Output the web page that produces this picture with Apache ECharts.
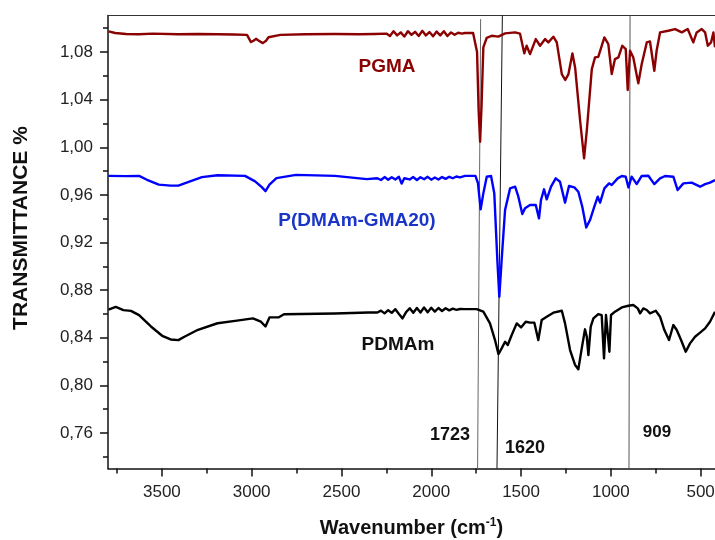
<!DOCTYPE html>
<html>
<head>
<meta charset="utf-8">
<script src="https://cdn.jsdelivr.net/npm/echarts@6/dist/echarts.min.js"></script>
<style>
  html, body { margin: 0; padding: 0; background: #fff; }
  #main { width: 715px; height: 540px; }
</style>
</head>
<body>
<div id="main"></div>
<script>
var chart = echarts.init(document.getElementById('main'));

// axis ticks
var majorX = [3500, 3000, 2500, 2000, 1500, 1000, 500];
var minorX = [3750, 3250, 2750, 2250, 1750, 1250, 750];
var majorY = [0.76, 0.80, 0.84, 0.88, 0.92, 0.96, 1.00, 1.04, 1.08];
var minorY = [0.74, 0.78, 0.82, 0.86, 0.90, 0.94, 0.98, 1.02, 1.06, 1.10];

// PGMA
var pgmaWn = [3797, 3760, 3700, 3627, 3550, 3410, 3300, 3190, 3100, 3026, 3004, 2990, 2976, 2960, 2938, 2920, 2906, 2840, 2700, 2536, 2400, 2316,
  2250, 2230, 2210, 2190, 2170, 2150, 2130, 2110, 2090, 2070, 2050, 2030, 2010, 1990, 1970, 1950, 1930, 1910, 1890, 1870, 1850, 1830,
  1812, 1767, 1756, 1745, 1736, 1728, 1720, 1710, 1691, 1663, 1626, 1589, 1533, 1506, 1482, 1469, 1450, 1418, 1394, 1366, 1348, 1320,
  1301, 1273, 1254, 1236, 1214, 1199, 1171, 1162, 1149, 1134, 1106, 1088, 1070, 1036, 1014, 995, 977, 958, 936, 917, 906, 893, 875,
  847, 828, 800, 782, 758, 745, 726, 680, 642, 605, 572, 541, 522, 494, 475, 460, 442, 429, 420];
var pgmaT = [1.0974, 1.0960, 1.0952, 1.0950, 1.0955, 1.0950, 1.0952, 1.0950, 1.0948, 1.0944, 1.0884, 1.0895, 1.0911, 1.0895, 1.0875, 1.0895, 1.0924, 1.0944, 1.0950, 1.0952, 1.0950, 1.0952,
  1.0955, 1.0935, 1.0975, 1.0940, 1.0965, 1.0930, 1.0975, 1.0945, 1.0970, 1.0935, 1.0978, 1.0940, 1.0968, 1.0932, 1.0972, 1.0940, 1.0975, 1.0935, 1.0965, 1.0945, 1.0962, 1.0955,
  1.0960, 1.0960, 1.0950, 1.0800, 1.0300, 1.0047, 1.0350, 1.0840, 1.0920, 1.0937, 1.0930, 1.0957, 1.0965, 1.0955, 1.0789, 1.0853, 1.0783, 1.0909, 1.0853, 1.0909, 1.0881, 1.0929,
  1.0881, 1.0615, 1.0565, 1.0615, 1.0789, 1.0671, 1.0223, 1.0209, 0.9907, 1.0139, 1.0657, 1.0755, 1.0759, 1.0923, 1.0867, 1.0615, 1.0741, 1.0755, 1.0853, 1.0825, 1.0481, 1.0811, 1.0755,
  1.0537, 1.0699, 1.0881, 1.0889, 1.0643, 1.0811, 1.0965, 1.0979, 1.0993, 1.0965, 1.0993, 1.0881, 1.0965, 1.0993, 1.0965, 1.0853, 1.0881, 1.0965, 1.0840];

// P(DMAm-GMA20)
var copoWn = [3797, 3700, 3627, 3583, 3517, 3451, 3408, 3343, 3277, 3190, 3037, 2981, 2945, 2923, 2901, 2862, 2753, 2536, 2359,
  2300, 2280, 2260, 2240, 2220, 2200, 2180, 2165, 2150, 2140, 2120, 2100, 2080, 2060, 2040, 2020, 2000, 1980, 1960, 1940, 1920, 1900, 1880, 1860, 1840,
  1812, 1754, 1740, 1725, 1710, 1691, 1667, 1649, 1632, 1621, 1608, 1589, 1561, 1533, 1515, 1493, 1478, 1450, 1418, 1400, 1389, 1372, 1357, 1333,
  1307, 1283, 1255, 1233, 1203, 1181, 1159, 1137, 1116, 1092, 1073, 1060, 1036, 1010, 995, 962, 939, 917, 902, 884, 856, 828, 791, 758, 726,
  698, 652, 628, 596, 550, 503, 475, 448, 420];
var copoT = [0.9760, 0.9758, 0.9760, 0.9727, 0.9686, 0.9678, 0.9678, 0.9714, 0.9749, 0.9765, 0.9760, 0.9714, 0.9667, 0.9632, 0.9686, 0.9741, 0.9768, 0.9760, 0.9733,
  0.9740, 0.9725, 0.9750, 0.9728, 0.9748, 0.9730, 0.9752, 0.9695, 0.9740, 0.9745, 0.9730, 0.9750, 0.9725, 0.9748, 0.9732, 0.9752, 0.9728, 0.9746, 0.9730, 0.9750, 0.9735, 0.9752, 0.9740, 0.9755, 0.9748,
  0.9760, 0.9760, 0.9700, 0.9479, 0.9613, 0.9753, 0.9759, 0.9613, 0.9053, 0.8745, 0.9053, 0.9473, 0.9655, 0.9669, 0.9585, 0.9439, 0.9487, 0.9515, 0.9515, 0.9403, 0.9557, 0.9647, 0.9563, 0.9669,
  0.9739, 0.9711, 0.9535, 0.9675, 0.9663, 0.9627, 0.9501, 0.9327, 0.9389, 0.9501, 0.9585, 0.9535, 0.9655, 0.9697, 0.9683, 0.9739, 0.9759, 0.9753, 0.9663, 0.9753, 0.9691, 0.9759, 0.9761, 0.9691, 0.9739,
  0.9759, 0.9753, 0.9641, 0.9697, 0.9703, 0.9669, 0.9691, 0.9703, 0.9725];

// PDMAm
var pdmaWn = [3797, 3757, 3714, 3672, 3627, 3561, 3495, 3451, 3408, 3377, 3299, 3190, 3082, 2993, 2949, 2923, 2901, 2851, 2820, 2536, 2350,
  2300, 2280, 2260, 2240, 2220, 2200, 2180, 2160, 2140, 2120, 2100, 2080, 2060, 2040, 2020, 2000, 1980, 1960, 1940, 1920, 1900, 1880, 1860, 1840,
  1812, 1747, 1710, 1673, 1645, 1626, 1608, 1589, 1574, 1552, 1524, 1500, 1474, 1450, 1426, 1404, 1385, 1357, 1320, 1273, 1255, 1227, 1199,
  1181, 1162, 1144, 1134, 1125, 1112, 1097, 1070, 1051, 1038, 1027, 1017, 1008, 999, 977, 939, 902, 875, 850, 837, 819, 800, 782, 750, 726,
  702, 676, 652, 633, 609, 583, 559, 531, 503, 475, 448, 420];
var pdmaT = [0.8637, 0.8659, 0.8632, 0.8626, 0.8590, 0.8495, 0.8413, 0.8386, 0.8380, 0.8407, 0.8467, 0.8522, 0.8544, 0.8563, 0.8535, 0.8495, 0.8571, 0.8571, 0.8598, 0.8604, 0.8612,
  0.8612, 0.8628, 0.8605, 0.8632, 0.8610, 0.8640, 0.8600, 0.8563, 0.8615, 0.8648, 0.8610, 0.8650, 0.8612, 0.8655, 0.8615, 0.8652, 0.8620, 0.8650, 0.8625, 0.8648, 0.8630, 0.8645, 0.8635, 0.8642,
  0.8641, 0.8641, 0.8619, 0.8521, 0.8381, 0.8263, 0.8311, 0.8367, 0.8339, 0.8423, 0.8521, 0.8487, 0.8535, 0.8527, 0.8527, 0.8381, 0.8549, 0.8577, 0.8611, 0.8627, 0.8521, 0.8297, 0.8171,
  0.8135, 0.8311, 0.8471, 0.8409, 0.8255, 0.8493, 0.8563, 0.8599, 0.8591, 0.8227, 0.8591, 0.8591, 0.8283, 0.8591, 0.8619, 0.8655, 0.8669, 0.8675, 0.8647, 0.8605, 0.8647, 0.8633, 0.8605, 0.8627, 0.8577,
  0.8465, 0.8381, 0.8507, 0.8465, 0.8381, 0.8283, 0.8353, 0.8409, 0.8443, 0.8479, 0.8535, 0.8619];

// marker lines (top point, bottom point)
var line1723 = [[1725, 1.1077], [1742, 0.7302]];
var line1620 = [[1604, 1.1107], [1634, 0.7302]];
var line909 = [[893, 1.1107], [899, 0.7302]];

var xMin = 420, xMax = 3800;
var yMin = 0.7302, yMax = 1.1107;

function zip(a, b) {
    return a.map(function (v, i) { return [v, b[i]]; });
}

var font = "'Liberation Sans', Arial, sans-serif";

function vline(data, color) {
    return {
        type: 'line',
        data: data,
        showSymbol: false,
        silent: true,
        z: 1,
        lineStyle: { color: color, width: 1 }
    };
}

function spectrum(wn, t, color) {
    return {
        type: 'line',
        data: zip(wn, t),
        showSymbol: false,
        z: 3,
        lineStyle: { color: color, width: 2.4, join: 'round' }
    };
}

function label(text, x, y, color, size) {
    return {
        type: 'text',
        x: x,
        y: y,
        style: {
            text: text,
            fill: color,
            font: 'bold ' + size + 'px ' + font,
            textAlign: 'center',
            textVerticalAlign: 'middle'
        }
    };
}

chart.setOption({
    animation: false,
    backgroundColor: '#fff',
    grid: { left: 108, right: 0, top: 15.5, bottom: 71.5, containLabel: false, outerBoundsMode: 'none' },
    xAxis: [{
        type: 'value',
        inverse: true,
        min: xMin,
        max: xMax,
        position: 'bottom',
        axisLine: { lineStyle: { color: '#111', width: 1.5 } },
        axisTick: { customValues: majorX, length: 8, lineStyle: { color: '#111', width: 1.5 } },
        axisLabel: {
            customValues: majorX, fontSize: 17, color: '#222', margin: 15, fontFamily: font,
            formatter: function (v) { return String(v); }
        },
        splitLine: { show: false },
        name: 'Wavenumber (cm{sup|-1})',
        nameLocation: 'middle',
        nameGap: 48,
        nameTextStyle: {
            fontSize: 20, fontWeight: 'bold', color: '#111', fontFamily: font,
            rich: { sup: { fontSize: 12, fontWeight: 'bold', color: '#111', fontFamily: font, padding: [0, 0, 12, 0] } }
        }
    }, {
        type: 'value',
        inverse: true,
        min: xMin,
        max: xMax,
        position: 'bottom',
        axisLine: { show: false },
        axisTick: { customValues: minorX, length: 5, lineStyle: { color: '#111', width: 1.5 } },
        axisLabel: { show: false },
        splitLine: { show: false }
    }, {
        type: 'value',
        inverse: true,
        min: xMin,
        max: xMax,
        position: 'top',
        axisLine: { lineStyle: { color: '#333', width: 1.2 } },
        axisTick: { show: false },
        axisLabel: { show: false },
        splitLine: { show: false }
    }],
    yAxis: [{
        type: 'value',
        min: yMin,
        max: yMax,
        axisLine: { show: true, lineStyle: { color: '#111', width: 1.5 } },
        axisTick: { customValues: majorY, length: 8, lineStyle: { color: '#111', width: 1.5 } },
        axisLabel: {
            customValues: majorY, fontSize: 17, color: '#222', margin: 15, fontFamily: font,
            formatter: function (v) { return v.toFixed(2).replace('.', ','); }
        },
        splitLine: { show: false }
    }, {
        type: 'value',
        min: yMin,
        max: yMax,
        position: 'left',
        axisLine: { show: false },
        axisTick: { customValues: minorY, length: 5, lineStyle: { color: '#111', width: 1.5 } },
        axisLabel: { show: false },
        splitLine: { show: false }
    }],
    series: [
        vline(line1723, '#666'),
        vline(line1620, '#111'),
        vline(line909, '#555'),
        spectrum(pgmaWn, pgmaT, '#8b0000'),
        spectrum(copoWn, copoT, '#0000ff'),
        spectrum(pdmaWn, pdmaT, '#000000')
    ],
    graphic: [
        label('PGMA', 387, 67, '#8b0000', 19),
        label('P(DMAm-GMA20)', 357, 221, '#1a35c8', 19),
        label('PDMAm', 398, 345, '#111', 19),
        label('1723', 450, 435, '#111', 18),
        label('1620', 525, 448, '#111', 18),
        label('909', 657, 432, '#111', 17),
        {
            type: 'text',
            x: 21,
            y: 228,
            rotation: Math.PI / 2,
            style: {
                text: 'TRANSMITTANCE %',
                fill: '#111',
                font: 'bold 21px ' + font,
                textAlign: 'center',
                textVerticalAlign: 'middle'
            }
        }
    ]
});
</script>
</body>
</html>
